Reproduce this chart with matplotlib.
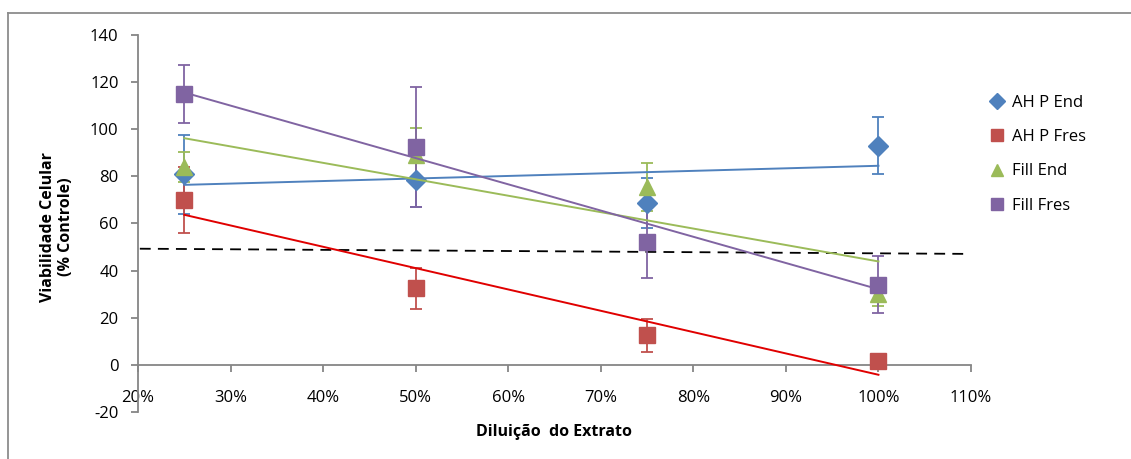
import numpy as np
import matplotlib.pyplot as plt
from matplotlib.lines import Line2D
from matplotlib.ticker import PercentFormatter

plt.rcParams['font.family'] = ['Open Sans', 'DejaVu Sans']
plt.rcParams['axes.unicode_minus'] = False

# diluicao do extrato (fraction)
x = [0.25, 0.50, 0.75, 1.00]

names = ["AH P End", "AH P Fres", "Fill End", "Fill Fres"]

ahp_end = [80.8, 78.5, 68.7, 93.0]
ahp_end_err = [16.8, 11.3, 10.5, 12.0]

ahp_fres = [70.0, 32.5, 12.5, 1.5]
ahp_fres_err = [14.0, 8.7, 7.0, 1.0]

fill_end = [84.0, 89.0, 75.5, 30.0]
fill_end_err = [6.5, 11.5, 10.0, 5.0]

fill_fres = [115.0, 92.5, 52.0, 34.0]
fill_fres_err = [12.3, 25.5, 15.0, 12.0]

# trendline end points (at 25% and 100%)
trend_x = [0.25, 1.00]
trend_ahp_end = [76.4, 84.5]
trend_ahp_fres = [63.7, -4.2]
trend_fill_end = [96.2, 43.9]
trend_fill_fres = [115.6, 32.1]

# limite de 50% (linha tracejada)
cut_x = [0.202, 1.097]
cut_y = [49.3, 47.1]


def main():
    fig = plt.figure(figsize=(11.31, 4.59), dpi=100)
    ax = fig.add_axes([138/1131, 1 - 412/459, (971 - 138)/1131, (412 - 35)/459])

    series = [
        (ahp_end, ahp_end_err, trend_ahp_end, '#4F81BD', '#4F81BD', 'D', 10),
        (ahp_fres, ahp_fres_err, trend_ahp_fres, '#C0504D', '#E00000', 's', 11),
        (fill_end, fill_end_err, trend_fill_end, '#9BBB59', '#9BBB59', '^', 11),
        (fill_fres, fill_fres_err, trend_fill_fres, '#8064A2', '#8064A2', 's', 11),
    ]

    handles = []
    for (y, err, tr, c, tc, m, ms), name in zip(series, names):
        ax.errorbar(x, y, yerr=err, fmt=m, color=c, ms=ms, mec=c,
                    ecolor=c, elinewidth=1.3, capsize=4.5, capthick=1.3, zorder=3)
        handles.append(Line2D([], [], ls='none', marker=m, color=c, ms=ms*0.8, label=name))

    for (y, err, tr, c, tc, m, ms) in series:
        ax.plot(trend_x, tr, color=tc, lw=1.4, zorder=4)

    ax.plot(cut_x, cut_y, color='black', ls=(0, (6, 4)), lw=1.3, zorder=2, clip_on=False)

    ax.set_xlim(0.2, 1.1)
    ax.set_ylim(-20, 140)
    ax.set_xticks(np.arange(0.2, 1.11, 0.1))
    ax.set_yticks(np.arange(-20, 141, 20))
    ax.xaxis.set_major_formatter(PercentFormatter(xmax=1, decimals=0))

    for s in ['top', 'right']:
        ax.spines[s].set_visible(False)
    ax.spines['bottom'].set_position(('data', 0))
    for s in ['bottom', 'left']:
        ax.spines[s].set_color('#868686')
        ax.spines[s].set_linewidth(1.3)
    ax.tick_params(axis='both', colors='#868686', labelcolor='black', labelsize=12,
                   length=5, width=1.3, direction='out')
    ax.tick_params(axis='x', pad=13)
    ax.tick_params(axis='y', pad=9)

    fig.text(57/1131, 1 - 227/459, "Viabilidade Celular\n(% Controle)", rotation=90,
             ha='center', va='center', fontsize=11.5, fontweight='bold', linespacing=1.2)
    fig.text(554/1131, 1 - 432/459, "Diluição  do Extrato", ha='center', va='center',
             fontsize=11.5, fontweight='bold')

    fig.legend(handles=handles, loc='upper left', bbox_to_anchor=(982/1131, 1 - 88/459),
               frameon=False, fontsize=12, handlelength=1.0, handletextpad=0.4,
               labelspacing=1.1, borderaxespad=0)

    # moldura do grafico
    fig.add_artist(Line2D([8/1131, 1], [1 - 13/459, 1 - 13/459], color='#8C8C8C', lw=1.3))
    fig.add_artist(Line2D([8/1131, 8/1131], [0, 1 - 13/459], color='#8C8C8C', lw=1.3))

    fig.savefig("out.png", dpi=100)


if __name__ == '__main__':
    main()
